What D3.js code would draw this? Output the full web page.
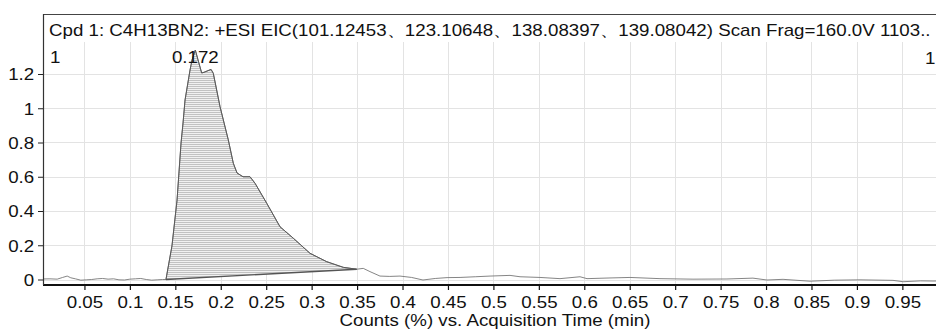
<!DOCTYPE html>
<html>
<head>
<meta charset="utf-8">
<script src="https://cdn.jsdelivr.net/npm/d3@7"></script>
<style>
  html, body { margin: 0; padding: 0; background: #fff; }
  svg { display: block; font-family: "Liberation Sans", Arial, sans-serif; }
</style>
</head>
<body>
<svg id="chart" width="936" height="331"></svg>
<script>
// Extracted ion chromatogram: acquisition time (min) vs. counts (%)
const traceTime = [
  0.004, 0.012, 0.020, 0.026, 0.031, 0.035, 0.040, 0.046, 0.052, 0.058,
  0.064, 0.070, 0.076, 0.082, 0.088, 0.094, 0.100, 0.106, 0.112, 0.118,
  0.124, 0.130, 0.136,
  0.1397, 0.1463, 0.1519, 0.1563, 0.1585, 0.1607, 0.1662, 0.1684, 0.172, 0.175,
  0.179, 0.1816, 0.1893, 0.1918, 0.1992, 0.2083, 0.2138, 0.2179, 0.2245, 0.2322,
  0.2377, 0.2506, 0.2652, 0.2798, 0.2982, 0.3166, 0.3348, 0.3496,
  0.3568, 0.3642, 0.3752, 0.386, 0.3972, 0.41, 0.4225, 0.436, 0.449, 0.4633,
  0.48, 0.4963, 0.5183, 0.5293, 0.5513, 0.5733, 0.5953, 0.603, 0.6283, 0.6503,
  0.6833, 0.7196, 0.757, 0.7856, 0.801, 0.8187, 0.8484, 0.875, 0.9034, 0.9397,
  0.9507, 0.97, 0.9837, 1.0
];
const traceCount = [
  0.003, 0.004, 0.002, 0.012, 0.020, 0.010, 0.004, -0.004, -0.002, 0.000,
  0.004, 0.006, 0.002, 0.004, -0.002, -0.003, 0.002, 0.004, 0.006, 0.000,
  -0.004, -0.002, 0.000,
  0.000, 0.196, 0.464, 0.797, 0.914, 1.048, 1.223, 1.282, 1.340, 1.282,
  1.206, 1.210, 1.227, 1.204, 1.009, 0.815, 0.679, 0.622, 0.600, 0.600,
  0.562, 0.445, 0.308, 0.241, 0.153, 0.104, 0.071, 0.060,
  0.065, 0.046, 0.020, 0.018, 0.020, 0.012, -0.003, 0.006, 0.011, 0.012,
  0.016, 0.020, 0.024, 0.016, 0.012, 0.005, 0.016, 0.005, 0.009, 0.012,
  0.005, 0.002, 0.003, 0.008, -0.003, 0.001, -0.010, -0.004, -0.002, -0.005,
  -0.013, -0.008, -0.009, -0.008
];

// Integrated peak: start/end times and the baseline counts at each end
const peakBounds = [0.1397, 0.3496];
const peakBaseline = [0.000, 0.060];
const peakApexTime = 0.172;
const peakApexLabel = "0.172";
const compoundLabel = "1";

const xTicks = [0.05, 0.1, 0.15, 0.2, 0.25, 0.3, 0.35, 0.4, 0.45, 0.5,
                0.55, 0.6, 0.65, 0.7, 0.75, 0.8, 0.85, 0.9, 0.95];
const xTickLabels = ["0.05", "0.1", "0.15", "0.2", "0.25", "0.3", "0.35", "0.4", "0.45", "0.5",
                     "0.55", "0.6", "0.65", "0.7", "0.75", "0.8", "0.85", "0.9", "0.95"];
const yTicks = [0, 0.2, 0.4, 0.6, 0.8, 1, 1.2];
const yTickLabels = ["0", "0.2", "0.4", "0.6", "0.8", "1", "1.2"];

const titleText = "Cpd 1: C4H13BN2: +ESI EIC(101.12453\u3001123.10648\u3001138.08397\u3001139.08042) Scan Frag=160.0V 1103..";
const xAxisTitle = "Counts (%) vs. Acquisition Time (min)";

// Layout
const plot = { left: 43, top: 14, right: 940, bottom: 285 };
const FS = 16;          // font size
const SX = 1.17;        // horizontal text stretch

const svg = d3.select("#chart");

const x = d3.scaleLinear().domain([0, 1]).range([39, 947.8]);
const y = d3.scaleLinear().domain([0, 1.2]).range([279.5, 74]);

const data = traceTime.map((t, i) => ({ t, c: traceCount[i] }));

svg.append("defs").call(defs => {
  defs.append("clipPath").attr("id", "plotClip")
    .append("rect")
    .attr("x", plot.left).attr("y", plot.top)
    .attr("width", plot.right - plot.left).attr("height", plot.bottom - plot.top);
  const pat = defs.append("pattern").attr("id", "peakFill")
    .attr("patternUnits", "userSpaceOnUse").attr("width", 2).attr("height", 2);
  pat.append("rect").attr("width", 2).attr("height", 2).attr("fill", "#f1f1f1");
  pat.append("rect").attr("width", 2).attr("height", 1).attr("fill", "#c2c2c2");
});

// Grid
const grid = svg.append("g").attr("stroke", "#e3e3e3").attr("stroke-width", 1);
grid.selectAll("line.v").data(xTicks).join("line").attr("class", "v")
  .attr("x1", d => Math.round(x(d)) + 0.5).attr("x2", d => Math.round(x(d)) + 0.5)
  .attr("y1", 42).attr("y2", plot.bottom);
grid.selectAll("line.h").data(yTicks).join("line").attr("class", "h")
  .attr("x1", plot.left).attr("x2", plot.right)
  .attr("y1", d => Math.round(y(d)) + 0.5).attr("y2", d => Math.round(y(d)) + 0.5);

const body = svg.append("g").attr("clip-path", "url(#plotClip)");

// Integrated peak area between the trace and the drawn baseline
const baseAt = t => peakBaseline[0] +
  (t - peakBounds[0]) / (peakBounds[1] - peakBounds[0]) * (peakBaseline[1] - peakBaseline[0]);
const peakData = data.filter(d => d.t >= peakBounds[0] && d.t <= peakBounds[1]);

body.append("path")
  .datum(peakData)
  .attr("fill", "url(#peakFill)")
  .attr("d", d3.area().x(d => x(d.t)).y0(d => y(baseAt(d.t))).y1(d => y(d.c)));

// Full trace
body.append("path")
  .datum(data)
  .attr("fill", "none")
  .attr("stroke", "#777")
  .attr("stroke-width", 0.9)
  .attr("d", d3.line().x(d => x(d.t)).y(d => y(d.c)));

// Peak outline a little darker
body.append("path")
  .datum(peakData)
  .attr("fill", "none")
  .attr("stroke", "#5a5a5a")
  .attr("stroke-width", 1)
  .attr("d", d3.line().x(d => x(d.t)).y(d => y(d.c)));

// Baseline of integration
body.append("line")
  .attr("x1", x(peakBounds[0])).attr("y1", y(peakBaseline[0]))
  .attr("x2", x(peakBounds[1])).attr("y2", y(peakBaseline[1]))
  .attr("stroke", "#555").attr("stroke-width", 1.4);

// Frame
svg.append("line").attr("x1", plot.left).attr("x2", 936).attr("y1", plot.top + 0.5).attr("y2", plot.top + 0.5)
  .attr("stroke", "#444").attr("stroke-width", 1.2);

// Axes
const xAxis = d3.axisBottom(x).tickValues(xTicks).tickSize(5)
  .tickFormat((d, i) => xTickLabels[i]);
const gx = svg.append("g").attr("transform", `translate(0,${plot.bottom})`).call(xAxis);
gx.select(".domain").remove();
gx.selectAll(".tick line").attr("stroke", "#111").attr("stroke-width", 1.2);
gx.selectAll(".tick text")
  .attr("y", 23).attr("dy", null)
  .attr("fill", "#111")
  .style("font-size", FS + "px")
  .attr("transform", `scale(${SX},1)`);
gx.attr("font-family", null).attr("font-size", null);
svg.append("line").attr("x1", plot.left).attr("x2", 936)
  .attr("y1", plot.bottom).attr("y2", plot.bottom)
  .attr("stroke", "#111").attr("stroke-width", 2.2);

const yAxis = d3.axisLeft(y).tickValues(yTicks).tickSize(5)
  .tickFormat((d, i) => yTickLabels[i]);
const gy = svg.append("g").attr("transform", `translate(${plot.left},0)`).call(yAxis);
gy.attr("font-family", null).attr("font-size", null);
gy.select(".domain").remove();
gy.selectAll(".tick line").attr("stroke", "#222");
gy.selectAll(".tick text")
  .attr("x", -7.5).attr("dy", "0.36em")
  .attr("fill", "#111")
  .style("font-size", FS + "px")
  .attr("transform", `scale(${SX},1)`);
svg.append("line").attr("x1", plot.left + 0.5).attr("x2", plot.left + 0.5)
  .attr("y1", plot.top).attr("y2", plot.bottom)
  .attr("stroke", "#333").attr("stroke-width", 1.2);

// Texts
function stretchedText(str, tx, ty, anchor, sx) {
  return svg.append("text")
    .attr("transform", `translate(${tx},${ty}) scale(${sx || SX},1)`)
    .attr("text-anchor", anchor || "start")
    .attr("fill", "#111")
    .style("font-size", FS + "px")
    .text(str);
}
stretchedText(titleText, 49, 36, "start", 1.17);
stretchedText(compoundLabel, 50, 63);
stretchedText(peakApexLabel, x(peakApexTime), 63, "middle");
stretchedText(compoundLabel, 925, 64);
stretchedText(xAxisTitle, 495, 326, "middle");
</script>
</body>
</html>
